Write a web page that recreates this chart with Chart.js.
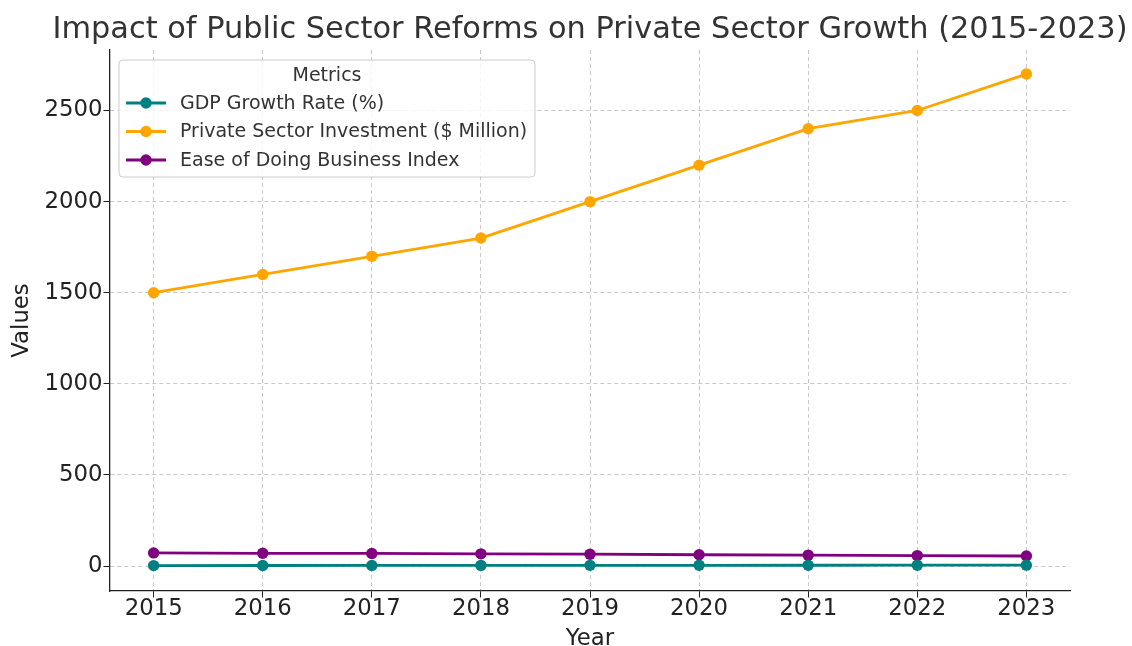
<!DOCTYPE html>
<html>
<head>
<meta charset="utf-8">
<script src="https://cdn.jsdelivr.net/npm/chart.js@4"></script>
<style>
html,body{margin:0;padding:0;background:#fff;}
#wrap{width:1132px;height:646px;position:relative;}
</style>
</head>
<body>
<div id="wrap"><canvas id="c" width="1132" height="646"></canvas></div>
<script>
const years = [2015, 2016, 2017, 2018, 2019, 2020, 2021, 2022, 2023];
const gdpGrowth = [2.5, 3.0, 3.2, 3.5, 3.8, 4.0, 4.2, 4.5, 4.8];
const privateInvestment = [1500, 1600, 1700, 1800, 2000, 2200, 2400, 2500, 2700];
const easeOfBusiness = [72, 70, 69, 67, 65, 62, 60, 57, 55];
const seriesNames = ["GDP Growth Rate (%)", "Private Sector Investment ($ Million)", "Ease of Doing Business Index"];
const seriesColors = ["#008080", "#FFA500", "#800080"];
const yTicks = [0, 500, 1000, 1500, 2000, 2500];
const chartTitle = 'Impact of Public Sector Reforms on Private Sector Growth (2015-2023)';
const legendTitle = 'Metrics';

const FONT = "'DejaVu Sans', sans-serif";
const allSeries = [gdpGrowth, privateInvestment, easeOfBusiness];

const datasets = allSeries.map((vals, i) => ({
  label: seriesNames[i],
  data: years.map((y, j) => ({x: y, y: vals[j]})),
  borderColor: seriesColors[i],
  backgroundColor: seriesColors[i],
  borderWidth: 2.8,
  pointRadius: 5.7,
  pointHoverRadius: 5.7,
  pointBorderWidth: 0,
  tension: 0
}));

const titlePlugin = {
  id: 'mplTitle',
  afterDraw(chart) {
    const ctx = chart.ctx;
    const a = chart.chartArea;
    ctx.save();
    ctx.fillStyle = '#333333';
    ctx.font = '30.4px ' + FONT;
    ctx.textAlign = 'center';
    ctx.textBaseline = 'alphabetic';
    ctx.fillText(chartTitle, (a.left + a.right) / 2, 38);
    ctx.restore();
  }
};

const legendPlugin = {
  id: 'mplLegend',
  afterDraw(chart) {
    const ctx = chart.ctx;
    const a = chart.chartArea;
    const x0 = a.left + 9, y0 = a.top + 10, w = 416, h = 117;
    ctx.save();
    ctx.beginPath();
    if (ctx.roundRect) ctx.roundRect(x0, y0, w, h, 4); else ctx.rect(x0, y0, w, h);
    ctx.fillStyle = 'rgba(255,255,255,0.8)';
    ctx.fill();
    ctx.strokeStyle = '#cccccc';
    ctx.lineWidth = 1;
    ctx.stroke();
    ctx.fillStyle = '#333333';
    ctx.font = '19px ' + FONT;
    ctx.textAlign = 'center';
    ctx.textBaseline = 'middle';
    ctx.fillText(legendTitle, x0 + w / 2, y0 + 16);
    ctx.textAlign = 'left';
    seriesNames.forEach((name, i) => {
      const yy = y0 + 43 + i * 28.5;
      ctx.strokeStyle = seriesColors[i];
      ctx.lineWidth = 2.8;
      ctx.beginPath();
      ctx.moveTo(x0 + 7, yy);
      ctx.lineTo(x0 + 47, yy);
      ctx.stroke();
      ctx.fillStyle = seriesColors[i];
      ctx.beginPath();
      ctx.arc(x0 + 27, yy, 5.7, 0, Math.PI * 2);
      ctx.fill();
      ctx.fillStyle = '#333333';
      ctx.fillText(name, x0 + 61, yy + 1);
    });
    ctx.restore();
  }
};

new Chart(document.getElementById('c'), {
  type: 'line',
  data: {datasets},
  plugins: [titlePlugin, legendPlugin],
  options: {
    responsive: false,
    animation: false,
    devicePixelRatio: 1,
    layout: {padding: {left: 0, right: 62, top: 50, bottom: 0}},
    plugins: {
      legend: {display: false},
      tooltip: {enabled: false},
      title: {display: false}
    },
    scales: {
      x: {
        type: 'linear',
        min: 2014.6,
        max: 2023.4,
        afterBuildTicks(s) { s.ticks = years.map(v => ({value: v})); },
        afterFit(s) { s.height = 55; },
        ticks: {color: '#222', font: {family: FONT, size: 22.8}, padding: -2, callback: v => String(v), autoSkip: false, maxRotation: 0},
        grid: {color: 'rgba(176,176,176,0.7)', lineWidth: 1, tickLength: 6.5, tickColor: '#222'},
        border: {display: true, color: '#222', width: 1.3, dash: [4, 3]},
        title: {display: true, text: 'Year', color: '#222', font: {family: FONT, size: 22.8}, padding: {top: 0, bottom: -7}}
      },
      y: {
        type: 'linear',
        min: -137,
        max: 2832,
        afterBuildTicks(s) { s.ticks = yTicks.map(v => ({value: v})); },
        afterFit(s) { s.width = 110; },
        ticks: {color: '#222', font: {family: FONT, size: 22.8}, padding: 1, callback: v => String(v)},
        grid: {color: 'rgba(176,176,176,0.7)', lineWidth: 1, tickLength: 6.5, tickColor: '#222'},
        border: {display: true, color: '#222', width: 1.3, dash: [4, 3]},
        title: {display: true, text: 'Values', color: '#222', font: {family: FONT, size: 22.8}, padding: {top: 8, bottom: 0}}
      }
    }
  }
});
</script>
</body>
</html>
